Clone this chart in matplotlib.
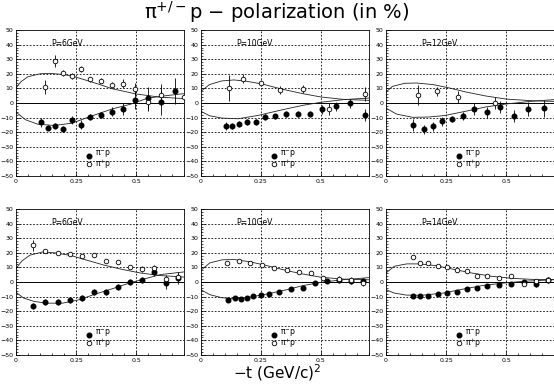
import matplotlib
matplotlib.use("Agg")
import matplotlib.pyplot as plt
from matplotlib.ticker import MultipleLocator

# ---- data (x = -t in (GeV/c)^2, y = polarization in %) ----
labels = ["P=6GeV", "P=10GeV", "P=12GeV", "P=6GeV", "P=10GeV", "P=14GeV"]

# top row, P=6
a_mx = [0.105, 0.133, 0.163, 0.196, 0.233, 0.269, 0.31, 0.354, 0.40, 0.446, 0.497, 0.551, 0.605, 0.663]
a_my = [-13.3, -16.8, -15.6, -17.9, -11.7, -14.9, -9.7, -8.0, -6.0, -3.9, 1.8, 3.2, 0.5, 8.0]
a_me = [3, 2, 2, 2, 3, 3, 2, 2, 3, 4, 6, 8, 9, 9]
a_px = [0.119, 0.162, 0.196, 0.233, 0.269, 0.31, 0.354, 0.40, 0.446, 0.497, 0.551, 0.605]
a_py = [11.0, 28.7, 20.7, 18.4, 23.4, 16.1, 15.4, 12.6, 13.3, 9.7, 0.5, 5.7]
a_pe = [5, 4, 2, 2, 2, 2, 2, 2, 3, 4, 6, 7]
a_cpx = [0, 0.02, 0.05, 0.1, 0.14, 0.2, 0.25, 0.3, 0.35, 0.4, 0.5, 0.6, 0.7]
a_cpy = [10.3, 14.5, 18.0, 20.0, 20.3, 19.5, 17.7, 15.2, 12.6, 9.8, 6.2, 4.0, 3.0]
a_cmx = [0, 0.04, 0.09, 0.16, 0.233, 0.31, 0.4, 0.48, 0.55, 0.64, 0.7]
a_cmy = [-6.2, -11.5, -14.5, -15.4, -13.8, -9.2, -4.1, -0.7, 3.4, 5.3, 6.4]

# top row, P=10
b_mx = [0.103, 0.13, 0.16, 0.193, 0.228, 0.267, 0.309, 0.355, 0.404, 0.453, 0.505, 0.562, 0.622, 0.682]
b_my = [-15.8, -15.6, -14.6, -13.3, -13.3, -9.4, -9.2, -7.3, -7.6, -7.3, -4.3, -2.3, -0.2, -8.0]
b_me = [3, 2, 2, 2, 2, 2, 2, 2, 2, 2, 3, 3, 3, 4]
b_px = [0.117, 0.176, 0.248, 0.331, 0.427, 0.534, 0.684]
b_py = [10.3, 16.7, 13.5, 8.9, 9.6, -4.3, 6.2]
b_pe = [9, 3, 2, 3, 3, 4, 5]
b_cpx = [0, 0.035, 0.086, 0.137, 0.19, 0.255, 0.34, 0.424, 0.5, 0.593, 0.7]
b_cpy = [8.0, 12.6, 15.1, 15.8, 14.9, 13.0, 9.4, 6.4, 4.1, 2.5, 1.8]
b_cmx = [0, 0.035, 0.086, 0.154, 0.238, 0.34, 0.424, 0.5, 0.593, 0.7]
b_cmy = [-5.7, -8.7, -10.3, -10.8, -8.5, -4.6, -1.6, 0.5, 2.3, 3.4]

# top row, P=12
c_mx = [0.111, 0.159, 0.196, 0.235, 0.277, 0.321, 0.368, 0.422, 0.476, 0.534, 0.593, 0.659]
c_my = [-15.3, -18.1, -16.0, -12.6, -11.2, -8.9, -3.9, -6.4, -2.7, -8.7, -4.1, -3.7]
c_me = [4, 3, 3, 3, 2, 3, 4, 4, 4, 4, 5, 6]
c_px = [0.132, 0.213, 0.299, 0.453]
c_py = [5.3, 8.0, 4.1, 0.2]
c_pe = [7, 3, 4, 4]
c_cpx = [0, 0.027, 0.078, 0.128, 0.196, 0.264, 0.331, 0.416, 0.5, 0.601, 0.7]
c_cpy = [7.5, 11.4, 13.5, 13.7, 12.6, 10.3, 7.6, 4.8, 2.7, 1.6, 1.1]
c_cmx = [0, 0.044, 0.111, 0.179, 0.247, 0.331, 0.416, 0.5, 0.601, 0.7]
c_cmy = [-3.5, -7.6, -9.8, -9.6, -8.5, -5.7, -2.7, -0.7, 1.1, 2.3]

# bottom row, P=6
d_mx = [0.071, 0.122, 0.173, 0.224, 0.274, 0.325, 0.374, 0.423, 0.474, 0.524, 0.575, 0.626, 0.677]
d_my = [-16.3, -13.8, -13.8, -12.6, -10.8, -7.1, -6.9, -3.7, 0.2, 1.1, 6.9, -0.9, 2.8]
d_me = [2, 2, 2, 2, 2, 2, 2, 2, 2, 2, 3, 4, 4]
d_px = [0.071, 0.122, 0.173, 0.224, 0.274, 0.325, 0.374, 0.423, 0.474, 0.524, 0.575, 0.626, 0.677]
d_py = [25.1, 21.1, 20.0, 19.5, 17.7, 18.4, 14.5, 13.8, 10.6, 8.7, 9.9, 2.1, 3.2]
d_pe = [4, 1, 1, 1, 1, 1, 1, 1, 1, 2, 2, 3, 3]
d_cpx = [0, 0.024, 0.058, 0.109, 0.16, 0.228, 0.296, 0.364, 0.432, 0.517, 0.602, 0.7]
d_cpy = [9.2, 14.3, 18.4, 20.5, 20.0, 18.2, 14.9, 11.7, 9.0, 6.2, 4.4, 3.4]
d_cmx = [0, 0.032, 0.075, 0.126, 0.194, 0.262, 0.33, 0.398, 0.466, 0.534, 0.602, 0.7]
d_cmy = [-7.1, -11.0, -13.3, -14.5, -14.5, -12.2, -8.3, -4.8, -1.1, 2.1, 5.1, 6.9]

# bottom row, P=10
e_mx = [0.113, 0.14, 0.165, 0.19, 0.215, 0.249, 0.285, 0.327, 0.375, 0.426, 0.476, 0.527, 0.577, 0.626, 0.677]
e_my = [-12.2, -11.3, -11.7, -10.8, -9.9, -8.7, -8.0, -7.1, -5.1, -4.1, -0.9, 0.7, 1.4, 0.5, 0.9]
e_me = [1, 1, 1, 1, 1, 1, 1, 1, 1, 1, 1, 1, 2, 2, 2]
e_px = [0.108, 0.157, 0.205, 0.256, 0.306, 0.357, 0.407, 0.458, 0.507, 0.577, 0.626, 0.677]
e_py = [13.1, 14.5, 13.3, 11.5, 9.4, 8.3, 7.1, 6.0, 2.8, 1.8, 1.2, -0.5]
e_pe = [1, 1, 1, 1, 1, 1, 1, 1, 1, 2, 2, 2]
e_cpx = [0, 0.037, 0.088, 0.138, 0.205, 0.273, 0.357, 0.424, 0.502, 0.593, 0.7]
e_cpy = [8.0, 13.1, 15.2, 15.4, 13.8, 11.3, 7.8, 5.5, 3.2, 2.0, 1.5]
e_cmx = [0, 0.037, 0.088, 0.138, 0.205, 0.273, 0.357, 0.424, 0.502, 0.593, 0.7]
e_cmy = [-5.3, -8.7, -10.8, -11.5, -10.3, -8.3, -5.3, -2.5, -0.2, 1.6, 3.0]

# bottom row, P=14
f_mx = [0.113, 0.142, 0.174, 0.215, 0.255, 0.297, 0.338, 0.378, 0.422, 0.471, 0.52, 0.573, 0.625, 0.677]
f_my = [-9.4, -9.4, -9.7, -8.0, -7.6, -6.9, -5.1, -4.1, -2.8, -1.8, -1.1, -0.2, -1.1, 1.6]
f_me = [1, 1, 1, 1, 1, 1, 1, 1, 1, 1, 1, 1, 2, 2]
f_px = [0.113, 0.142, 0.174, 0.215, 0.255, 0.297, 0.338, 0.378, 0.422, 0.471, 0.52, 0.573, 0.625, 0.677]
f_py = [17.2, 13.3, 13.1, 10.8, 10.3, 8.0, 7.6, 4.1, 3.9, 3.0, 4.4, -1.4, 0.7, 1.4]
f_pe = [1, 1, 1, 1, 1, 1, 1, 1, 1, 1, 1, 1, 1, 2]
f_cpx = [0, 0.035, 0.086, 0.137, 0.204, 0.272, 0.356, 0.441, 0.525, 0.61, 0.7]
f_cpy = [6.2, 10.8, 12.4, 12.4, 11.3, 9.0, 6.2, 3.9, 2.5, 1.8, 1.6]
f_cmx = [0, 0.035, 0.086, 0.154, 0.238, 0.323, 0.407, 0.492, 0.576, 0.7]
f_cmy = [-5.3, -7.6, -9.0, -9.0, -7.6, -4.8, -2.3, -0.7, 0.5, 1.6]

# odd point at the right edge of the first panel (big upward error bar)
edge_x = [0.70]
edge_y = [4.0]
edge_err = [[1], [36]]

panels = [
    (a_mx, a_my, a_me, a_px, a_py, a_pe, a_cpx, a_cpy, a_cmx, a_cmy),
    (b_mx, b_my, b_me, b_px, b_py, b_pe, b_cpx, b_cpy, b_cmx, b_cmy),
    (c_mx, c_my, c_me, c_px, c_py, c_pe, c_cpx, c_cpy, c_cmx, c_cmy),
    (d_mx, d_my, d_me, d_px, d_py, d_pe, d_cpx, d_cpy, d_cmx, d_cmy),
    (e_mx, e_my, e_me, e_px, e_py, e_pe, e_cpx, e_cpy, e_cmx, e_cmy),
    (f_mx, f_my, f_me, f_px, f_py, f_pe, f_cpx, f_cpy, f_cmx, f_cmy),
]

W, H = 554, 384
fig = plt.figure(figsize=(W / 100, H / 100), dpi=100)

lefts = [16, 201, 386]
tops = [30, 209]
aw, ah = 168, 146

axes = []
for r in range(2):
    for c in range(3):
        ax = fig.add_axes([lefts[c] / W, 1 - (tops[r] + ah) / H, aw / W, ah / H])
        axes.append(ax)

for i, ax in enumerate(axes):
    mx, my, me, px, py, pe, cpx, cpy, cmx, cmy = panels[i]
    ax.set_xlim(0, 0.7)
    ax.set_ylim(-50, 50)

    # grid
    for g in [-40, -30, -20, -10, 10, 20, 30, 40]:
        ax.axhline(g, color="k", lw=0.6, ls=(0, (2, 2)), zorder=1)
    for g in [0.25, 0.5]:
        ax.axvline(g, color="k", lw=0.6, ls=(0, (2, 2)), zorder=1)
    ax.axhline(0, color="k", lw=0.7, zorder=1)

    # model curves
    ax.plot(cpx, cpy, color="#222222", lw=0.6, zorder=2)
    ax.plot(cmx, cmy, color="#222222", lw=0.6, zorder=2)

    # data
    ax.errorbar(mx, my, yerr=me, fmt="o", ms=3.3, color="k", mfc="k", mec="k",
                elinewidth=0.6, capsize=0, zorder=3)
    ax.errorbar(px, py, yerr=pe, fmt="o", ms=3.3, color="k", mfc="white", mec="k",
                mew=0.6, elinewidth=0.6, capsize=0, zorder=3)
    if i == 0:
        ax.errorbar(edge_x, edge_y, yerr=edge_err, fmt="o", ms=3.3, color="k",
                    mfc="white", mec="k", mew=0.6, elinewidth=0.6, capsize=0, zorder=3)

    ax.text(0.148, 41, labels[i], fontsize=5.5, ha="left", va="center")

    # legend
    ax.plot([0.305], [-36.5], "o", ms=3.3, color="k", zorder=3)
    ax.plot([0.305], [-41.5], "o", ms=3.3, mfc="white", mec="k", mew=0.6, zorder=3)
    ax.text(0.33, -39, "\u03c0$^{-}$p\n\u03c0$^{+}$p", fontsize=5.5, ha="left",
            va="center", linespacing=0.75)

    ax.set_xticks([0, 0.25, 0.5])
    ax.set_xticklabels(["0", "0.25", "0.5"])
    ax.set_yticks(range(-50, 51, 10))
    ax.xaxis.set_minor_locator(MultipleLocator(0.05))
    ax.yaxis.set_minor_locator(MultipleLocator(2))
    ax.tick_params(which="both", direction="in", top=False, right=False,
                   labelsize=4.5, pad=2, width=0.5)
    ax.tick_params(which="major", length=3)
    ax.tick_params(which="minor", length=1.5)
    for s in ax.spines.values():
        s.set_linewidth(0.6)

fig.text(0.5, 1 - 12 / H, "\u03c0$^{+/-}$p \u2212 polarization (in %)", fontsize=14,
         ha="center", va="center")
fig.text(0.5, 1 - 373 / H, "\u2212t (GeV/c)$^2$", fontsize=11, ha="center", va="center")

fig.savefig("out.png", dpi=100)
